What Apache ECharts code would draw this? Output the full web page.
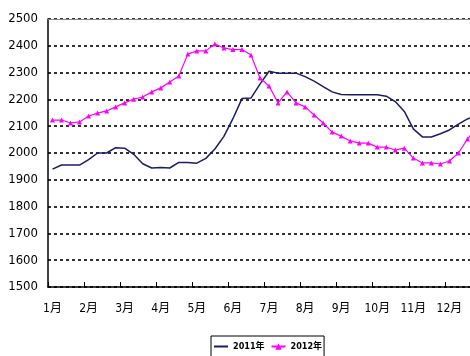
<!DOCTYPE html>
<html>
<head>
<meta charset="utf-8">
<script src="https://cdn.jsdelivr.net/npm/echarts@6/dist/echarts.min.js"></script>
<style>
  html, body { margin: 0; padding: 0; background: #fff; }
  #main { width: 470px; height: 356px; }
</style>
</head>
<body>
<div id="main"></div>
<script>
// 月份，每月4个数据点
const months = ['1月', '2月', '3月', '4月', '5月', '6月', '7月', '8月', '9月', '10月', '11月', '12月'];
const yTicks = { min: 1500, max: 2500, step: 100 };

const data2011 = [
  1940, 1955, 1955, 1955, 1975, 2000, 2000, 2020, 2018, 1995, 1960, 1944,
  1946, 1944, 1965, 1965, 1962, 1980, 2015, 2062, 2128, 2203, 2205, 2257,
  2305, 2298, 2298, 2298, 2285, 2268, 2248, 2228, 2218, 2217, 2217, 2217,
  2217, 2212, 2192, 2155, 2090, 2060, 2060, 2072, 2086, 2108, 2127, 2140
];
const data2012 = [
  2123, 2123, 2112, 2116, 2138, 2149, 2157, 2172, 2187, 2201, 2209, 2228,
  2243, 2265, 2287, 2369, 2381, 2381, 2407, 2392, 2386, 2386, 2366, 2280,
  2250, 2187, 2228, 2187, 2172, 2142, 2112, 2078, 2063, 2045, 2037, 2037,
  2022, 2022, 2011, 2018, 1981, 1963, 1963, 1959, 1970, 2000, 2052, 2095
];

const categories = [];
months.forEach(m => { for (let w = 1; w <= 4; w++) categories.push(m + '-' + w); });

const font = "'Liberation Sans Narrow', 'DejaVu Sans Condensed', 'Noto Sans CJK SC', sans-serif";

let chart = echarts.init(document.getElementById('main'), null, { renderer: 'canvas' });
chart.setOption({
  animation: false,
  backgroundColor: '#fff',
  textStyle: { fontFamily: font },
  // 图表右侧被裁掉一截，所以绘图区比画布宽
  grid: { left: 48, width: 433, top: 19, bottom: 69, outerBoundsMode: 'none', containLabel: false },
  legend: {
    data: [{ name: '2011年', itemStyle: { opacity: 0 } }, '2012年'],
    left: 211, top: 336,
    itemWidth: 14, itemHeight: 8, itemGap: 6,
    padding: [6, 2, 12, 2],
    borderColor: '#000', borderWidth: 1,
    textStyle: { fontSize: 9, color: '#000', fontWeight: 'bold', fontFamily: font }
  },
  xAxis: [{
    type: 'category',
    data: categories,
    boundaryGap: true,
    axisLine: { lineStyle: { color: '#000', width: 1.5 } },
    axisTick: { show: true, inside: true, interval: 3, length: 5, lineStyle: { color: '#000' } },
    axisLabel: {
      interval: 3, margin: 16, fontSize: 12, color: '#000', fontFamily: font,
      formatter: v => v.split('-')[0]
    },
    splitLine: { show: false }
  }, {
    type: 'category',
    data: categories,
    position: 'top',
    axisLine: { lineStyle: { color: '#888', width: 1.2 } },
    axisTick: { show: false },
    axisLabel: { show: false }
  }],
  yAxis: {
    type: 'value',
    min: yTicks.min, max: yTicks.max, interval: yTicks.step,
    axisLine: { show: true, lineStyle: { color: '#000', width: 1.5 } },
    axisTick: { show: false },
    axisLabel: { fontSize: 13, color: '#000', margin: 10, fontFamily: font, formatter: v => String(v) },
    splitLine: { lineStyle: { color: '#000', type: [3, 3], width: 1.6 } }
  },
  series: [{
    name: '2011年',
    type: 'line',
    data: data2011,
    symbol: 'none',
    lineStyle: { color: '#1c1c6b', width: 1.5 },
    itemStyle: { color: '#1c1c6b' }
  }, {
    name: '2012年',
    type: 'line',
    data: data2012,
    symbol: 'triangle',
    symbolSize: 5,
    showAllSymbol: true,
    lineStyle: { color: '#ff00ff', width: 1.2 },
    itemStyle: { color: '#ff00ff' }
  }]
});
</script>
</body>
</html>
